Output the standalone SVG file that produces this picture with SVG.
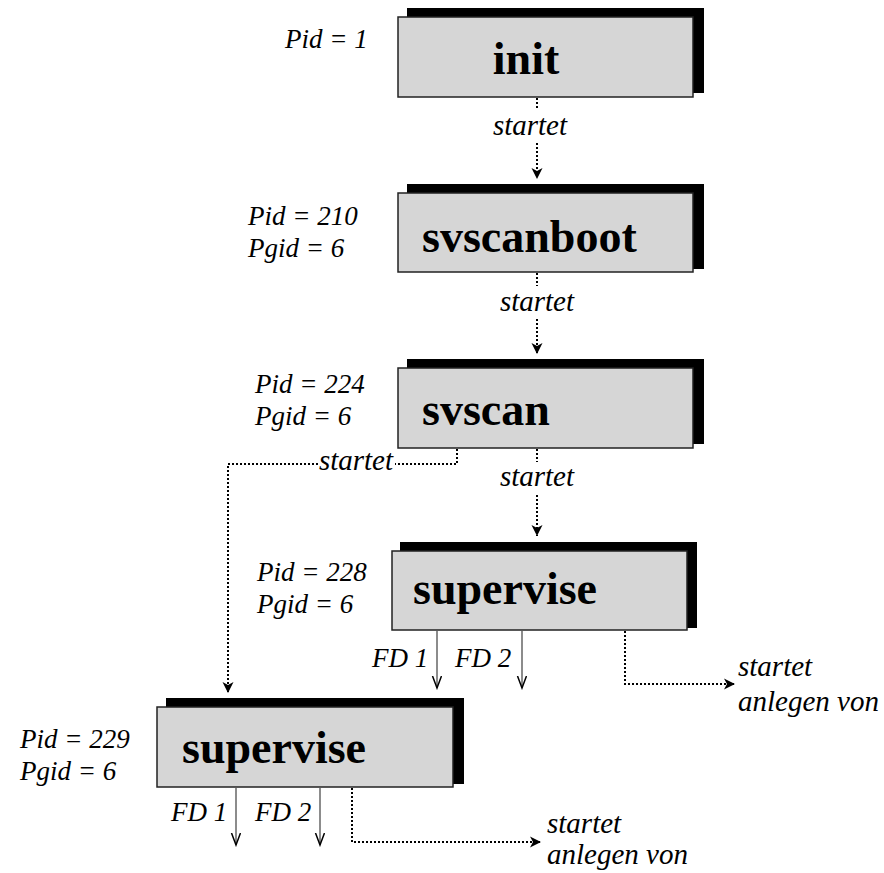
<svg xmlns="http://www.w3.org/2000/svg" width="884" height="873" viewBox="0 0 884 873">
<defs>
<style>
.bg{fill:#fff}
.shadow{fill:#000}
.box{fill:#d6d6d6;stroke:#222;stroke-width:1.5}
.name{font-family:"Liberation Serif","Times New Roman",serif;font-weight:bold;font-size:46px;fill:#000}
.lbl{font-family:"Liberation Serif","Times New Roman",serif;font-style:italic;font-size:27px;fill:#000}
.big{font-size:29px}
.dot{fill:none;stroke:#000;stroke-width:2;stroke-dasharray:2 2}
.fd{fill:none;stroke:#666;stroke-width:1.5}
</style>
<marker id="ah" markerWidth="13" markerHeight="13" refX="11" refY="6.5" orient="auto" markerUnits="userSpaceOnUse">
<path d="M0,1 L11,6.5 L0,12 L3,6.5 z" fill="#000"/>
</marker>
<marker id="chev" markerWidth="14" markerHeight="12" refX="12" refY="5" orient="auto" markerUnits="userSpaceOnUse">
<path d="M0,0.5 L12,5 L0,9.5" fill="none" stroke="#000" stroke-width="1.5"/>
</marker>
</defs>
<rect class="bg" x="0" y="0" width="884" height="873"/>

<g id="node-init">
<rect class="shadow" x="407" y="8" width="297" height="85"/>
<rect class="box" x="398" y="17" width="295" height="80"/>
<text class="name" x="526" y="74" text-anchor="middle">init</text>
<text class="lbl" x="285" y="48">Pid = 1</text>
</g>

<g id="node-svscanboot">
<rect class="shadow" x="407" y="184" width="297" height="85"/>
<rect class="box" x="398" y="193" width="295" height="79"/>
<text class="name" x="422" y="252">svscanboot</text>
<text class="lbl" x="248" y="225">Pid = 210</text>
<text class="lbl" x="248" y="257">Pgid = 6</text>
</g>

<g id="node-svscan">
<rect class="shadow" x="407" y="359" width="297" height="85"/>
<rect class="box" x="398" y="368" width="295" height="80"/>
<text class="name" x="422" y="425">svscan</text>
<text class="lbl" x="255" y="393">Pid = 224</text>
<text class="lbl" x="255" y="425">Pgid = 6</text>
</g>

<g id="node-supervise-228">
<rect class="shadow" x="400" y="542" width="297" height="86"/>
<rect class="box" x="392" y="551" width="295" height="79"/>
<text class="name" x="413" y="604">supervise</text>
<text class="lbl" x="257" y="581">Pid = 228</text>
<text class="lbl" x="257" y="613">Pgid = 6</text>
</g>

<g id="node-supervise-229">
<rect class="shadow" x="166" y="698" width="298" height="86"/>
<rect class="box" x="157" y="707" width="296" height="80"/>
<text class="name" x="182" y="763">supervise</text>
<text class="lbl" x="20" y="748">Pid = 229</text>
<text class="lbl" x="20" y="780">Pgid = 6</text>
</g>

<g id="connectors">
<path class="dot" d="M537,98 V110"/>
<path class="dot" d="M537,143 V179" marker-end="url(#ah)"/>
<text class="lbl big" x="530" y="135" text-anchor="middle">startet</text>

<path class="dot" d="M537,273 V286"/>
<path class="dot" d="M537,319 V354" marker-end="url(#ah)"/>
<text class="lbl big" x="537" y="311" text-anchor="middle">startet</text>

<path class="dot" d="M537,449 V462"/>
<path class="dot" d="M537,495 V536" marker-end="url(#ah)"/>
<text class="lbl big" x="537" y="486" text-anchor="middle">startet</text>

<path class="dot" d="M457,449 V464 H395"/>
<path class="dot" d="M318,464 H228 V693" marker-end="url(#ah)"/>
<text class="lbl big" x="356" y="470" text-anchor="middle">startet</text>

<path class="fd" d="M437,631 V688" marker-end="url(#chev)"/>
<path class="fd" d="M522,631 V688" marker-end="url(#chev)"/>
<text class="lbl" x="372" y="667">FD 1</text>
<text class="lbl" x="455" y="667">FD 2</text>
<path class="dot" d="M625,631 V684 H735" marker-end="url(#ah)"/>
<text class="lbl big" x="738" y="676">startet</text>
<text class="lbl big" x="738" y="711">anlegen von</text>

<path class="fd" d="M236,788 V845" marker-end="url(#chev)"/>
<path class="fd" d="M320,788 V845" marker-end="url(#chev)"/>
<text class="lbl" x="171" y="821">FD 1</text>
<text class="lbl" x="255" y="821">FD 2</text>
<path class="dot" d="M352,788 V842 H541" marker-end="url(#ah)"/>
<text class="lbl big" x="547" y="833">startet</text>
<text class="lbl big" x="547" y="864">anlegen von</text>
</g>
</svg>
